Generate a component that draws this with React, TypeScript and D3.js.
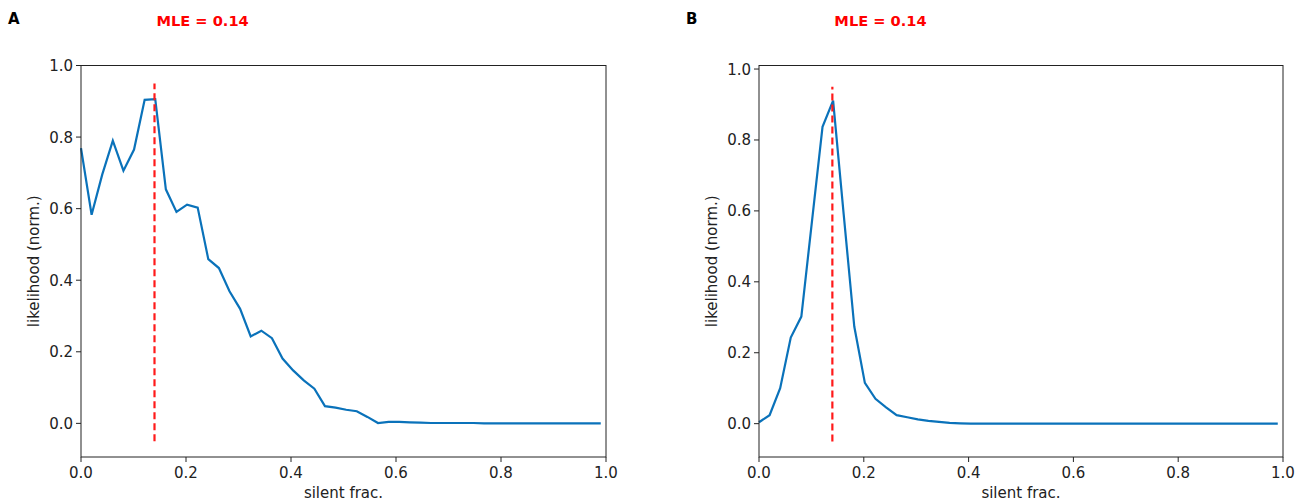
import React from 'react';
import * as d3 from 'd3';

// silent fraction grid: 50 points from 0 to 0.99
const nPoints = 50;
const xMax = 0.99;

const likelihoodA = [
  0.769, 0.583, 0.695, 0.790, 0.706, 0.765, 0.904, 0.906, 0.654, 0.591,
  0.611, 0.603, 0.459, 0.434, 0.369, 0.320, 0.243, 0.259, 0.238, 0.181,
  0.148, 0.120, 0.097, 0.048, 0.044, 0.038, 0.034, 0.018, 0.001, 0.004,
  0.004, 0.003, 0.002, 0.001, 0.001, 0.001, 0.001, 0.001, 0.0, 0.0,
  0.0, 0.0, 0.0, 0.0, 0.0, 0.0, 0.0, 0.0, 0.0, 0.0,
];

const likelihoodB = [
  0.004, 0.024, 0.100, 0.243, 0.302, 0.570, 0.837, 0.911, 0.590, 0.274,
  0.115, 0.070, 0.046, 0.024, 0.018, 0.012, 0.008, 0.005, 0.002, 0.001,
  0.0, 0.0, 0.0, 0.0, 0.0, 0.0, 0.0, 0.0, 0.0, 0.0,
  0.0, 0.0, 0.0, 0.0, 0.0, 0.0, 0.0, 0.0, 0.0, 0.0,
  0.0, 0.0, 0.0, 0.0, 0.0, 0.0, 0.0, 0.0, 0.0, 0.0,
];

const xTicks = [0, 0.2, 0.4, 0.6, 0.8, 1.0];
const yTicks = [0, 0.2, 0.4, 0.6, 0.8, 1.0];
const mle = 0.14;

const panels = [
  { letter: 'A', values: likelihoodA, left: 81, right: 606, yTop: 1.0, letterX: 8 },
  { letter: 'B', values: likelihoodB, left: 759, right: 1283, yTop: 1.01, letterX: 686 },
];

const top = 65.5;
const bottom = 457;
const yBottom = -0.094;
const font = 'DejaVu Sans, sans-serif';

const Panel = ({ p }) => {
  const x = d3.scaleLinear().domain([0, 1]).range([p.left, p.right]);
  const y = d3.scaleLinear().domain([yBottom, p.yTop]).range([bottom, top]);
  const pts = p.values.map((v, i) => [i * xMax / (nPoints - 1), v]);
  const line = d3.line().x(d => x(d[0])).y(d => y(d[1]));
  return (
    <g>
      <text x={p.letterX} y={24} fontFamily={font} fontWeight="bold" fontSize={15}>{p.letter}</text>
      <text x={x(mle) + 2} y={26} fontFamily={font} fontWeight="bold" fontSize={14.6} fill="#ff0000">MLE = 0.14</text>
      <path d={line(pts)} fill="none" stroke="#0a72ba" strokeWidth={2.2} />
      <line x1={x(mle)} x2={x(mle)} y1={y(-0.05)} y2={y(0.95)} stroke="#ff1a1a" strokeWidth={2.2} strokeDasharray="7,4" />
      <rect x={p.left} y={top} width={p.right - p.left} height={bottom - top} fill="none" stroke="#222" strokeWidth={1} />
      {xTicks.map(t => (
        <g key={'x' + t}>
          <line x1={x(t)} x2={x(t)} y1={bottom} y2={bottom + 5} stroke="#222" />
          <text x={x(t)} y={bottom + 21} textAnchor="middle" fontFamily={font} fontSize={15} fill="#222">{t.toFixed(1)}</text>
        </g>
      ))}
      {yTicks.map(t => (
        <g key={'y' + t}>
          <line x1={p.left - 5} x2={p.left} y1={y(t)} y2={y(t)} stroke="#222" />
          <text x={p.left - 8} y={y(t) + 5.5} textAnchor="end" fontFamily={font} fontSize={15} fill="#222">{t.toFixed(1)}</text>
        </g>
      ))}
      <text x={(p.left + p.right) / 2} y={498} textAnchor="middle" fontFamily={font} fontSize={15} fill="#222">silent frac.</text>
      <text transform={`translate(${p.left - 42},${(top + bottom) / 2}) rotate(-90)`} textAnchor="middle" fontFamily={font} fontSize={15} fill="#222">likelihood (norm.)</text>
    </g>
  );
};

export default function App() {
  return (
    <div style={{ position: 'fixed', left: 0, top: 0 }}>
      <svg width={1305} height={502} style={{ display: 'block', background: '#fff' }}>
        {panels.map(p => <Panel key={p.letter} p={p} />)}
      </svg>
    </div>
  );
}
